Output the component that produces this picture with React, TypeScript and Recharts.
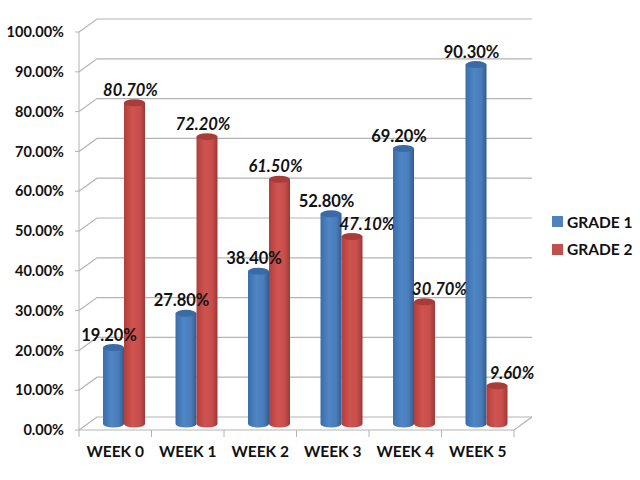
// Weekly grade shares drawn as fake-3D cylinders on a skewed grid, the way old Excel charts look.
import { Bar, BarChart, CartesianGrid, LabelList, Legend, XAxis, YAxis } from 'recharts'

const WEEKS = ['WEEK 0', 'WEEK 1', 'WEEK 2', 'WEEK 3', 'WEEK 4', 'WEEK 5']
const GRADE_1 = [19.2, 27.8, 38.4, 52.8, 69.2, 90.3]
const GRADE_2 = [80.7, 72.2, 61.5, 47.1, 30.7, 9.6]
const Y_TICKS = [0, 10, 20, 30, 40, 50, 60, 70, 80, 90, 100]

const data = WEEKS.map((week, i) => ({ week, g1: GRADE_1[i], g2: GRADE_2[i] }))

const FONT = 'Lato, "Open Sans", sans-serif'
const TEXT = '#111111'
const GRID = '#b4b4b4'
const BLUE = '#4f81bd'
const RED = '#c0504d'
const BAND = 72.5
// depth of the fake 3D floor
const DEPTH_X = 18
const DEPTH_Y = 13

const fmt = (v: number) => `${v.toFixed(2)}%`

function Cylinder({ x, y, width, height, grad, top }: any) {
  const dx = 9
  const dy = -6
  const rx = width / 2
  const ry = 3.5
  const left = x + dx
  const right = left + width
  const ty = y + dy
  const by = y + height + dy
  return (
    <g>
      <path
        d={`M${left},${ty} L${left},${by} A${rx},${ry} 0 0 0 ${right},${by} L${right},${ty} Z`}
        fill={`url(#${grad})`}
      />
      <ellipse cx={left + rx} cy={ty} rx={rx} ry={ry} fill={top} />
    </g>
  )
}

function GridLine({ x1, y1, x2, y2, index }: any) {
  return (
    <g key={`grid-${index}`} stroke={GRID} strokeWidth={1.2} fill="none">
      <polyline points={`${x1},${y1} ${x1 + DEPTH_X},${y1 - DEPTH_Y} ${x2 + DEPTH_X},${y2 - DEPTH_Y}`} />
      {y1 > 400 ? <line x1={x2} y1={y2} x2={x2 + DEPTH_X} y2={y2 - DEPTH_Y} /> : null}
    </g>
  )
}

function WeekTick({ x, y, payload, index }: any) {
  const left = x - BAND / 2
  return (
    <g>
      <line x1={left} y1={y} x2={left} y2={y + 7} stroke={GRID} />
      {index === WEEKS.length - 1 ? <line x1={left + BAND} y1={y} x2={left + BAND} y2={y + 7} stroke={GRID} /> : null}
      <text x={x} y={y + 27} textAnchor="middle" fontFamily={FONT} fontSize={15.5} fontWeight={700} fill={TEXT}>
        {payload.value}
      </text>
    </g>
  )
}

function Grade1Label({ x, y, width, value }: any) {
  return (
    <text x={x + width / 2 + 4.5} y={y - 13} textAnchor="middle" fontFamily={FONT} fontSize={16.5} fontWeight={700} fill={TEXT}>
      {fmt(value)}
    </text>
  )
}

function Grade2Label({ x, y, width, value, index }: any) {
  // the last three labels sit off to the right of their bars
  const shift = index >= 3 ? 24 : 5
  return (
    <text
      x={x + width / 2 + shift}
      y={y - 13}
      textAnchor="middle"
      fontFamily={FONT}
      fontSize={16.5}
      fontWeight={700}
      fontStyle="italic"
      fill={TEXT}
    >
      {fmt(value)}
    </text>
  )
}

function GradeLegend({ payload }: any) {
  return (
    <div>
      {(payload ?? []).map((item: any) => (
        <div key={item.value} style={{ display: 'flex', alignItems: 'center', height: 27.5, whiteSpace: 'nowrap' }}>
          <span style={{ width: 11, height: 11, marginRight: 4, background: item.color }} />
          <span style={{ color: TEXT }}>{item.value}</span>
        </div>
      ))}
    </div>
  )
}

export default function App() {
  return (
    <div style={{ position: 'absolute', left: 0, top: 0, width: 640, height: 480, background: '#fff' }}>
      <BarChart
        width={640}
        height={480}
        data={data}
        margin={{ top: 32, right: 126, bottom: 0, left: 0 }}
        barSize={21}
        barGap={0}
      >
        <defs>
          <linearGradient id="blueCyl" x1="0" y1="0" x2="1" y2="0">
            <stop offset="0" stopColor="#3b6eaa" />
            <stop offset="0.4" stopColor="#4f86c6" />
            <stop offset="0.75" stopColor="#4a7cb8" />
            <stop offset="1" stopColor="#2f5c94" />
          </linearGradient>
          <linearGradient id="redCyl" x1="0" y1="0" x2="1" y2="0">
            <stop offset="0" stopColor="#b03f3c" />
            <stop offset="0.4" stopColor="#d05350" />
            <stop offset="0.75" stopColor="#c64e4b" />
            <stop offset="1" stopColor="#9f3835" />
          </linearGradient>
        </defs>
        <CartesianGrid vertical={false} horizontal={(props: any) => <GridLine {...props} />} />
        <XAxis
          dataKey="week"
          axisLine={{ stroke: GRID }}
          tickLine={false}
          tickSize={0}
          tickMargin={0}
          height={50}
          interval={0}
          tick={<WeekTick />}
        />
        <YAxis
          domain={[0, 100]}
          ticks={Y_TICKS}
          width={79}
          axisLine={{ stroke: GRID }}
          tickLine={{ stroke: GRID }}
          tickSize={4}
          tickMargin={11}
          tickFormatter={fmt}
          interval={0}
          tick={{ fontFamily: FONT, fontSize: 14.5, fontWeight: 700, fill: TEXT }}
        />
        <Legend
          layout="vertical"
          align="center"
          verticalAlign="middle"
          content={<GradeLegend />}
          wrapperStyle={{
            left: 552,
            top: 208,
            width: 86,
            fontFamily: FONT,
            fontSize: 15.5,
            fontWeight: 700,
          }}
        />
        <Bar
          dataKey="g1"
          name="GRADE 1"
          fill={BLUE}
          isAnimationActive={false}
          shape={(p: any) => <Cylinder {...p} grad="blueCyl" top="#3a6ba6" />}
        >
          <LabelList dataKey="g1" content={<Grade1Label />} />
        </Bar>
        <Bar
          dataKey="g2"
          name="GRADE 2"
          fill={RED}
          isAnimationActive={false}
          shape={(p: any) => <Cylinder {...p} grad="redCyl" top="#a83c39" />}
        >
          <LabelList dataKey="g2" content={<Grade2Label />} />
        </Bar>
      </BarChart>
    </div>
  )
}
